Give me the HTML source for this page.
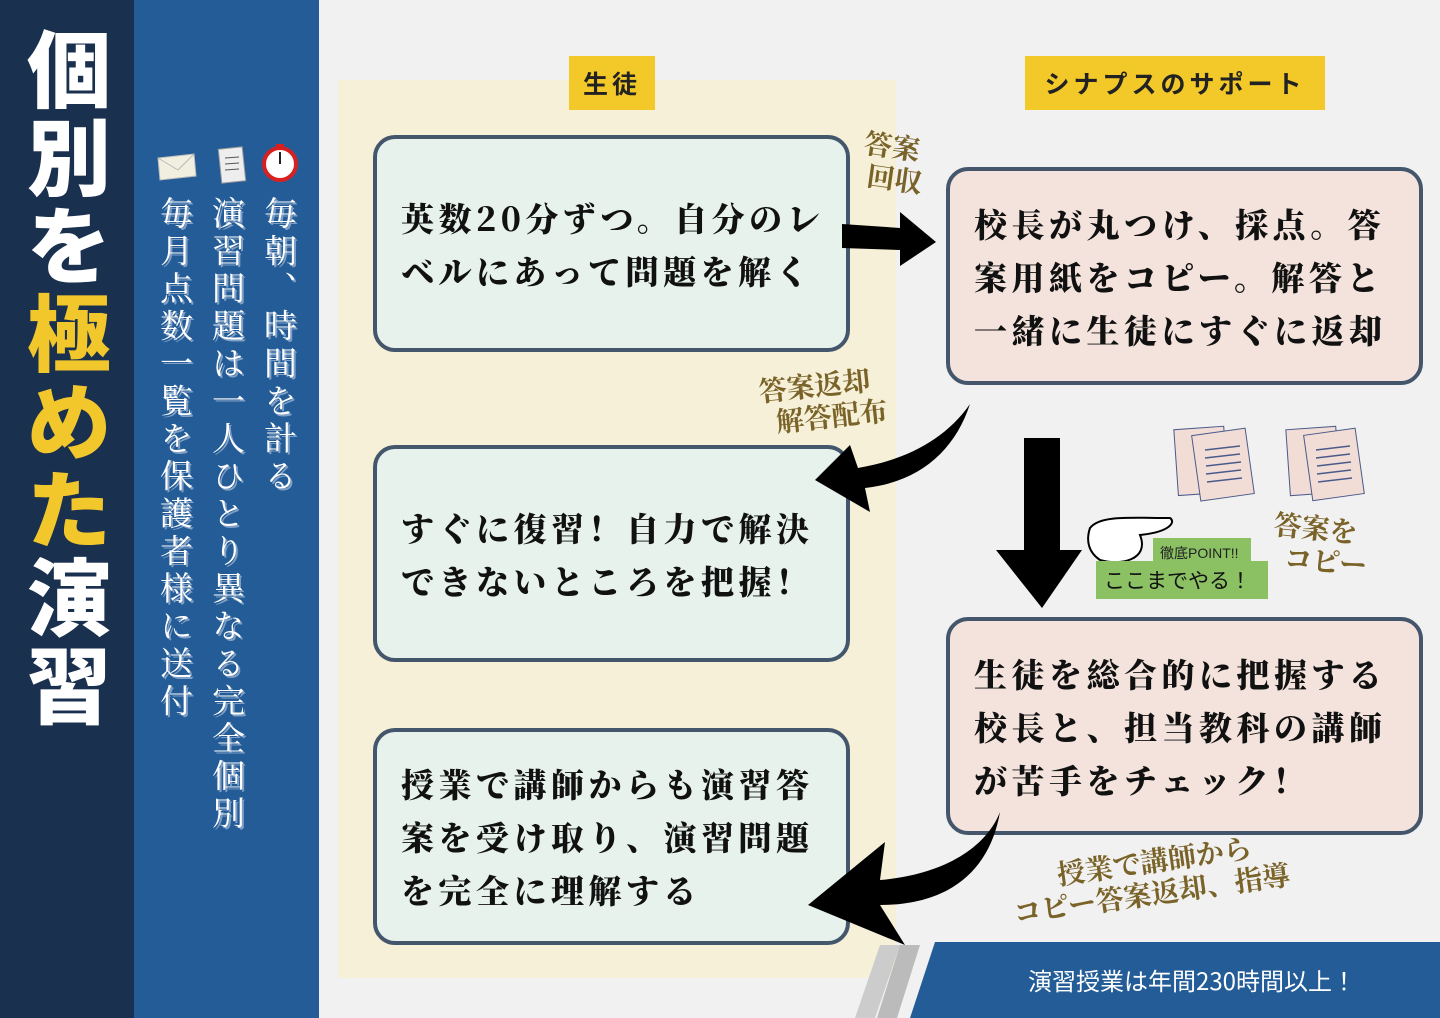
<!DOCTYPE html>
<html><head><meta charset="utf-8"><style>
*{margin:0;padding:0;box-sizing:border-box}
body{width:1440px;height:1018px;overflow:hidden;position:relative;background:#f1f1f1;font-family:"Liberation Serif","Noto Serif CJK SC",serif}
.abs{position:absolute}
.navy{left:0;top:0;width:134px;height:1018px;background:#1a304f}
.blue{left:134px;top:0;width:185px;height:1018px;background:#235c96}
.title{left:24px;top:22px;width:90px;font-family:"Noto Sans CJK JP",sans-serif;font-weight:900;font-size:84px;line-height:88px;color:#fff;text-align:center}
.title span{color:#f2c72b}
.vt{writing-mode:vertical-rl;font-family:"Noto Serif CJK SC",serif;font-size:33px;line-height:36px;color:#fff;text-shadow:2px 2px 0 #7f9fc6;letter-spacing:4.5px}
.panel{left:338px;top:80px;width:558px;height:898px;background:#f6efd5;opacity:.9}
.lab{background:#f2c929;font-family:"Noto Sans CJK JP",sans-serif;font-weight:700;font-size:25px;color:#222;text-align:center;line-height:54px;letter-spacing:4px}
.box{border:4px solid #44566b;border-radius:22px;font-family:"Noto Serif CJK SC",serif;font-weight:900;font-size:33px;line-height:53px;color:#111;display:flex;align-items:center;padding:0 18px 0 24px;letter-spacing:4.5px}
.g{background:#e7f2ec}.p{background:#f3e3dc}
.br{font-family:"Noto Serif CJK SC",serif;font-weight:700;color:#7a6328;font-size:28px;line-height:32px}
</style></head><body>
<div class="abs navy"></div>
<div class="abs blue"></div>
<div class="abs title">個<br>別<br>を<br><span>極</span><br><span>め</span><br><span>た</span><br>演<br>習</div>
<div class="abs vt" style="left:262px;top:196px">毎朝、時間を計る</div>
<div class="abs vt" style="left:210px;top:196px">演習問題は一人ひとり異なる完全個別</div>
<div class="abs vt" style="left:158px;top:196px">毎月点数一覧を保護者様に送付</div>
<svg class="abs" style="left:150px;top:140px" width="160" height="50">
<circle cx="130" cy="24" r="16" fill="#fff" stroke="#d82020" stroke-width="4"/><line x1="130" y1="24" x2="130" y2="12" stroke="#222" stroke-width="2"/><rect x="126" y="4" width="8" height="4" fill="#d82020"/>
<rect x="70" y="8" width="24" height="34" fill="#eee" stroke="#999" transform="rotate(-6 82 25)"/><line x1="75" y1="18" x2="89" y2="17" stroke="#555"/><line x1="75" y1="24" x2="89" y2="23" stroke="#555"/><line x1="75" y1="30" x2="89" y2="29" stroke="#555"/>
<polygon points="8,18 44,14 46,36 10,40" fill="#f1efe0" stroke="#bbb"/><polyline points="8,18 28,30 44,14" fill="none" stroke="#bbb"/>
</svg>
<div class="abs panel"></div>
<div class="abs lab" style="left:569px;top:56px;width:86px">生徒</div>
<div class="abs lab" style="left:1025px;top:56px;width:300px">シナプスのサポート</div>
<div class="abs box g" style="left:373px;top:135px;width:477px;height:217px">英数20分ずつ。自分のレベルにあって問題を解く</div>
<div class="abs box g" style="left:373px;top:445px;width:477px;height:217px">すぐに復習！自力で解決できないところを把握！</div>
<div class="abs box g" style="left:373px;top:728px;width:477px;height:217px">授業で講師からも演習答案を受け取り、演習問題を完全に理解する</div>
<div class="abs box p" style="left:946px;top:167px;width:477px;height:218px">校長が丸つけ、採点。答案用紙をコピー。解答と一緒に生徒にすぐに返却</div>
<div class="abs box p" style="left:946px;top:617px;width:477px;height:218px">生徒を総合的に把握する校長と、担当教科の講師が苦手をチェック！</div>
<div class="abs br" style="left:862px;top:130px;transform:rotate(8deg)">答案<br>&nbsp;回収</div>
<div class="abs br" style="left:760px;top:368px;transform:rotate(-6deg)">答案返却<br>&nbsp;&nbsp;解答配布</div>
<div class="abs br" style="left:1272px;top:512px;transform:rotate(6deg)">答案を<br>&nbsp;&nbsp;コピー</div>
<div class="abs br" style="left:1010px;top:845px;transform:rotate(-8deg);text-align:center">&nbsp;&nbsp;授業で講師から<br>コピー答案返却、指導</div>
<svg class="abs" style="left:0;top:0" width="1440" height="1018">
<polygon points="842,224 900,228 900,212 936,242 900,266 900,250 842,248" fill="#000"/>
<path d="M970,404 C955,450 920,482 865,488 L870,512 L815,480 L850,445 L858,468 C905,460 945,440 970,404 Z" fill="#000"/>
<polygon points="1024,438 1060,438 1060,550 1082,550 1042,608 996,550 1024,550" fill="#000"/>
<path d="M1000,812 C990,870 950,905 880,905 L905,945 L808,905 L885,842 L880,880 C940,875 985,850 1000,812 Z" fill="#000"/>
<polygon points="880,945 900,945 875,1018 855,1018" fill="#ccc"/>
<polygon points="900,945 920,945 897,1018 877,1018" fill="#bbb"/>
<polygon points="935,942 1440,942 1440,1018 910,1018" fill="#235c96"/>
<g fill="#f2ddd6" stroke="#4a5a8a"><rect x="1176" y="428" width="50" height="66" transform="rotate(-4 1200 460)"/><rect x="1196" y="432" width="54" height="66" transform="rotate(-8 1220 465)"/>
<rect x="1288" y="428" width="50" height="66" transform="rotate(-4 1313 460)"/><rect x="1308" y="432" width="52" height="66" transform="rotate(-8 1330 465)"/></g>
<g stroke="#4a5a8a" stroke-width="1.5"><line x1="1205" y1="450" x2="1240" y2="446"/><line x1="1205" y1="458" x2="1240" y2="454"/><line x1="1206" y1="466" x2="1241" y2="462"/><line x1="1206" y1="474" x2="1241" y2="470"/><line x1="1207" y1="482" x2="1242" y2="478"/>
<line x1="1316" y1="450" x2="1350" y2="446"/><line x1="1316" y1="458" x2="1350" y2="454"/><line x1="1317" y1="466" x2="1351" y2="462"/><line x1="1317" y1="474" x2="1351" y2="470"/><line x1="1318" y1="482" x2="1352" y2="478"/></g>
<path d="M1090,528 C1100,515 1130,518 1170,518 C1176,522 1170,532 1140,535 C1150,560 1120,566 1100,560 C1088,552 1086,540 1090,528Z" fill="#fff" stroke="#000" stroke-width="2"/>
<rect x="1153" y="538" width="98" height="24" fill="#8cc163"/>
<rect x="1096" y="561" width="172" height="38" fill="#8cc163"/>
<text x="1160" y="558" font-family="Liberation Sans,Noto Sans CJK JP,sans-serif" font-size="14" fill="#222">徹底POINT!!</text>
<text x="1104" y="588" font-family="Noto Sans CJK JP,sans-serif" font-size="21" fill="#111">ここまでやる！</text>
<text x="1028" y="990" font-family="Noto Sans CJK JP,sans-serif" font-size="24" fill="#fff">演習授業は年間230時間以上！</text>
</svg>
</body></html>
